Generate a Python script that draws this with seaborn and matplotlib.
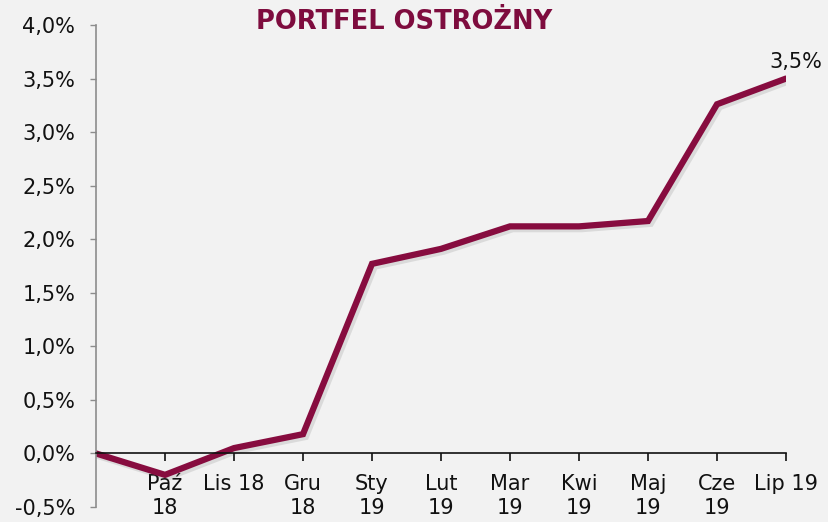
import matplotlib
matplotlib.use("Agg")
import matplotlib.pyplot as plt
import matplotlib.patheffects as pe
import seaborn as sns
import pandas as pd
from matplotlib.ticker import FuncFormatter, FixedLocator

# data
months = ["", "Paź\n18", "Lis 18", "Gru\n18", "Sty\n19", "Lut\n19", "Mar\n19",
          "Kwi\n19", "Maj\n19", "Cze\n19", "Lip 19"]
returns = [0.0, -0.2, 0.05, 0.18, 1.77, 1.91, 2.12, 2.12, 2.17, 3.26, 3.5]

df = pd.DataFrame({"pos": range(len(months)), "ret": returns})

sns.set_theme(style="white")
plt.rcParams["font.family"] = ["DejaVu Sans"]

bg = "#F2F2F2"
maroon = "#870C3F"

fig = plt.figure(figsize=(8.29, 5.22), dpi=100, facecolor=bg)
ax = fig.add_axes([96 / 829, 15 / 522, 690 / 829, 482 / 522])
ax.set_facecolor(bg)

sns.lineplot(data=df, x="pos", y="ret", ax=ax, color=maroon, linewidth=4.5,
             solid_joinstyle="miter",
             path_effects=[pe.SimpleLineShadow(offset=(2, -2), alpha=0.15, shadow_color="#555555"),
                           pe.Normal()])

ax.set_xlim(0, len(months) - 1)
ax.set_ylim(-0.5, 4.0)
ax.set_xlabel("")
ax.set_ylabel("")

# y axis
ax.yaxis.set_major_locator(FixedLocator([i * 0.5 for i in range(-1, 9)]))
ax.yaxis.set_major_formatter(FuncFormatter(lambda v, p: f"{v:.1f}%".replace(".", ",")))
ax.tick_params(axis="y", left=True, length=4, width=1, color="#8C8C8C",
               labelsize=15, labelcolor="#111111", pad=11)

# x axis at zero
ax.spines["bottom"].set_position(("data", 0))
ax.spines["bottom"].set_color("#111111")
ax.spines["bottom"].set_linewidth(1.2)
ax.spines["left"].set_color("#8C8C8C")
ax.spines["left"].set_linewidth(1.2)
ax.spines["top"].set_visible(False)
ax.spines["right"].set_visible(False)
ax.set_xticks(range(1, len(months)))
ax.set_xticklabels(months[1:], linespacing=1.25)
ax.tick_params(axis="x", bottom=True, length=6, width=1.2, color="#111111",
               labelsize=15, labelcolor="#111111", pad=9)

ax.annotate(f"{returns[-1]:.1f}%".replace(".", ","), xy=(len(months) - 1, returns[-1]),
            xytext=(-12, 5), textcoords="offset points", fontsize=15,
            color="#111111", ha="left", va="bottom", annotation_clip=False)

fig.text(404 / 829, 1 - 22 / 522, "PORTFEL OSTROŻNY", ha="center", va="center",
         fontsize=18.5, fontweight="bold", color="#7E0C3E")

fig.savefig("out.png", dpi=100, facecolor=bg)
